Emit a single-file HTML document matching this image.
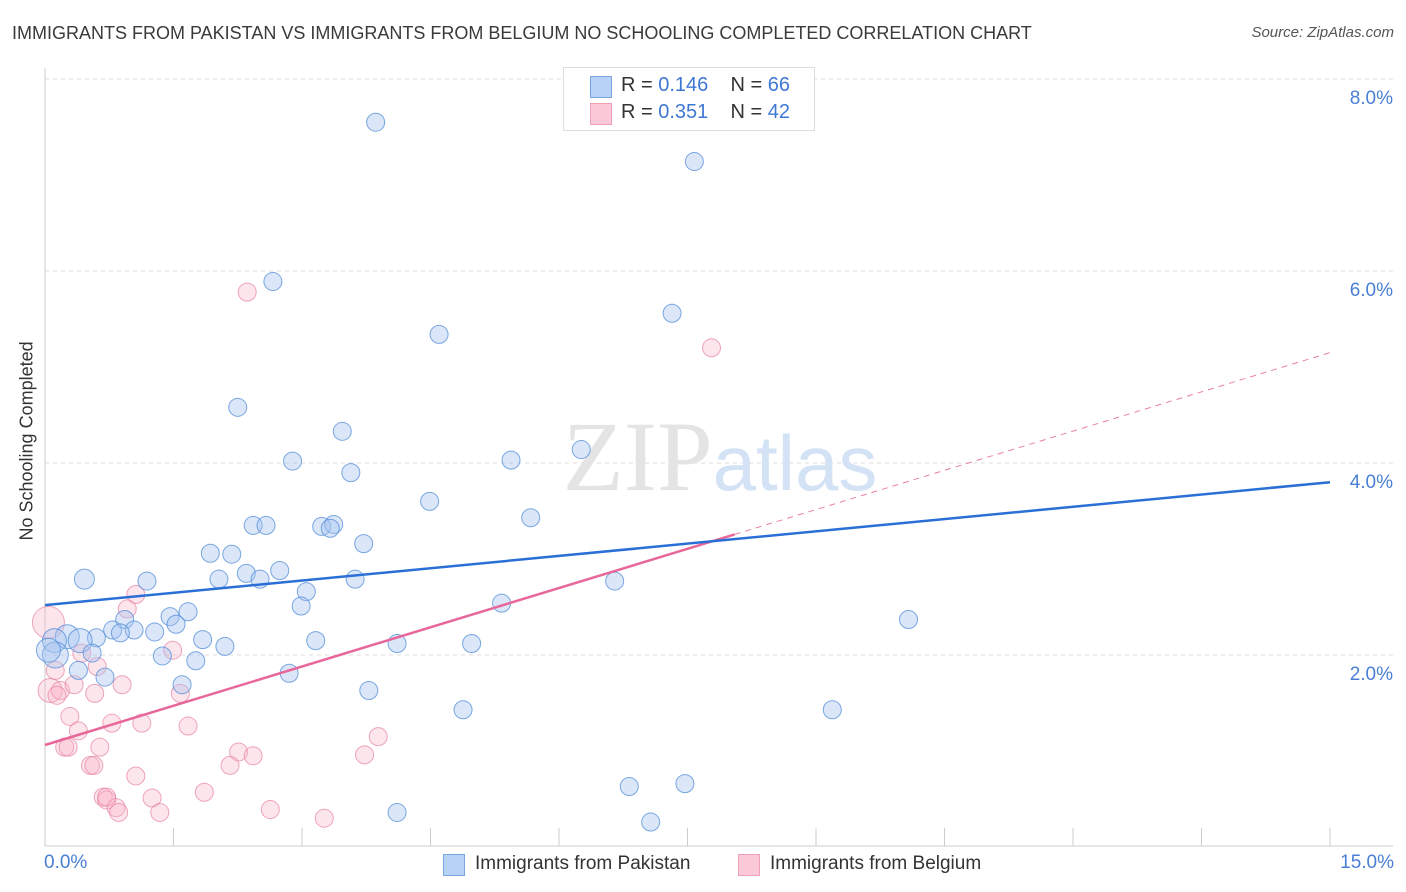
<!DOCTYPE html>
<html><head><meta charset="utf-8"><style>
body{margin:0;background:#fff;font-family:"Liberation Sans",sans-serif;}
#w{position:relative;width:1406px;height:892px;overflow:hidden}
.t{position:absolute;white-space:nowrap}
</style></head><body>
<div id="w">
<div class="t" style="left:12px;top:23px;font-size:18px;color:#3a3a3a">IMMIGRANTS FROM PAKISTAN VS IMMIGRANTS FROM BELGIUM NO SCHOOLING COMPLETED CORRELATION CHART</div>
<div class="t" style="right:12px;top:24px;font-size:15px;color:#555;font-style:italic">Source: ZipAtlas.com</div>
<svg id="s" width="1406" height="892" style="position:absolute;left:0;top:0"></svg>
</div>
<script>
const xTicks=[0,1.5,3,4.5,6,7.5,9,10.5,12,13.5,15];
const yTicks=[2,4,6,8];
const yTickLabels=["2.0%","4.0%","6.0%","8.0%"];
const pakX=[3.86,7.58,2.66,7.32,4.6,2.25,3.47,2.89,5.44,3.57,6.26,4.49,5.67,2.43,2.58,3.23,3.37,3.33,3.72,1.93,2.18,0.46,1.19,2.03,2.35,2.51,2.74,3.62,6.65,3.05,2.99,1.67,1.46,0.93,1.53,0.79,1.04,0.88,1.28,0.60,0.26,0.11,0.41,1.84,2.1,3.16,4.11,4.98,1.37,0.55,0.12,1.76,0.39,0.7,1.6,2.85,3.78,5.33,10.08,4.88,9.19,6.82,7.47,4.11,7.07,0.04];
const pakY=[7.55,7.14,5.89,5.56,5.34,4.58,4.33,4.02,4.03,3.9,4.14,3.6,3.43,3.35,3.35,3.34,3.36,3.32,3.16,3.06,3.05,2.79,2.77,2.79,2.85,2.79,2.88,2.79,2.77,2.66,2.51,2.45,2.4,2.37,2.32,2.26,2.26,2.23,2.24,2.18,2.19,2.15,2.15,2.16,2.09,2.15,2.12,2.12,1.99,2.02,2.0,1.94,1.84,1.77,1.69,1.81,1.63,2.54,2.37,1.43,1.43,0.63,0.66,0.36,0.26,2.05];
const pakR=[9,9,9,9,9,9,9,9,9,9,9,9,9,9,9,9,9,9,9,9,9,10,9,9,9,9,9,9,9,9,9,9,9,9,9,9,9,9,9,9,12,12,12,9,9,9,9,9,9,9,13,9,9,9,9,9,9,9,9,9,9,9,9,9,9,12];
const belX=[2.36,7.78,0.04,1.06,0.96,1.49,0.43,0.61,0.06,0.18,0.14,0.34,0.9,0.58,1.58,0.29,0.39,0.78,1.13,1.67,0.23,0.27,0.64,0.53,0.57,2.26,2.43,2.16,1.06,3.89,3.73,0.68,0.72,0.83,0.86,1.25,1.34,1.86,2.63,3.26,0.72,0.12];
const belY=[5.78,5.2,2.34,2.63,2.48,2.05,2.02,1.88,1.63,1.63,1.58,1.69,1.69,1.6,1.6,1.36,1.21,1.29,1.29,1.26,1.04,1.04,1.04,0.85,0.85,0.99,0.95,0.85,0.74,1.15,0.96,0.52,0.49,0.41,0.36,0.51,0.36,0.57,0.39,0.3,0.52,1.84];
const belR=[9,9,16,9,9,9,9,9,12,9,9,9,9,9,9,9,9,9,9,9,9,9,9,9,9,9,9,9,9,9,9,9,9,9,9,9,9,9,9,9,9,9];
const pakTrend=[2.52,3.80];
const belTrend=[1.0625,5.15];
const belSolidEnd=8.05;
const X0=45,X1=1330,Y0=847;
const sx=v=>X0+(v/15)*(X1-X0);
const sy=v=>Y0-v*96;
const s=document.getElementById('s');
const NS='http://www.w3.org/2000/svg';
function mk(t,a){const e=document.createElementNS(NS,t);for(const k in a)e.setAttribute(k,a[k]);s.appendChild(e);return e;}
yTicks.forEach((v,i)=>{
 const g=mk('line',{x1:X0,x2:1393,y1:sy(v),y2:sy(v),stroke:'#ddd','stroke-dasharray':'4,4'});
 
 
 const t=mk('text',{x:1393,y:sy(v)+25,'text-anchor':'end','font-size':19,fill:'#4a7fd4','font-family':'Liberation Sans'});
 t.textContent=yTickLabels[i];
 
 
});
const ax=mk('line',{x1:X0,x2:X0,y1:68,y2:846,stroke:'#ccc'});


const bx=mk('line',{x1:X0,x2:1393,y1:846,y2:846,stroke:'#ccc'});


xTicks.forEach(v=>{const l=mk('line',{x1:sx(v),x2:sx(v),y1:828,y2:846,stroke:'#ccc'});
 
 });
const wm=mk('text',{x:720,y:490,'text-anchor':'middle','font-size':100,fill:'#e4e4e4','font-family':'Liberation Serif'});
wm.innerHTML='ZIP<tspan fill="#d4e2f5" font-family="Liberation Sans" font-size="78">atlas</tspan>';


function dots(xs,ys,rs,fill,stroke,name){xs.forEach((x,i)=>{const c=mk('circle',{cx:sx(x),cy:sy(ys[i]),r:rs[i],fill:fill,stroke:stroke,'stroke-width':1});
 
 });}
dots(belX,belY,belR,'rgba(248,180,200,0.35)','rgba(230,130,160,0.7)','belgium-point');
dots(pakX,pakY,pakR,'rgba(164,196,240,0.4)','rgba(80,140,215,0.75)','pakistan-point');
const bt=v=>belTrend[0]+(belTrend[1]-belTrend[0])*v/15;
const l1=mk('line',{x1:sx(belSolidEnd),y1:sy(bt(belSolidEnd)),x2:sx(15),y2:sy(bt(15)),stroke:'#e87fa3','stroke-width':1,'stroke-dasharray':'6,5'});


const l2=mk('line',{x1:sx(0),y1:sy(bt(0)),x2:sx(belSolidEnd),y2:sy(bt(belSolidEnd)),stroke:'#e8679a','stroke-width':2.5});


const l3=mk('line',{x1:sx(0),y1:sy(pakTrend[0]),x2:sx(15),y2:sy(pakTrend[1]),stroke:'#2a6fd6','stroke-width':2.5});


</script>
<div class="t" style="left:-58px;top:445px;transform:rotate(-90deg);font-size:18px;color:#333;width:170px;text-align:center">No Schooling Completed</div>
<div class="t" style="left:44px;top:852px;font-size:19px;color:#4a7fd4">0.0%</div>
<div class="t" style="right:12px;top:852px;font-size:19px;color:#4a7fd4">15.0%</div>
<div style="position:absolute;left:563px;top:67px;width:250px;height:62px;border:1px solid #ddd;background:#fff;font-size:20px;color:#333">
 <div style="position:absolute;left:26px;top:8px;width:20px;height:20px;background:#b8d2f5;border:1px solid #7aa6e0"></div>
 <div class="t" style="left:57px;top:6px">R = <span style="color:#3f78d4">0.146</span>&nbsp;&nbsp;&nbsp; N = <span style="color:#3f78d4">66</span></div>
 <div style="position:absolute;left:26px;top:35px;width:20px;height:20px;background:#fac8d6;border:1px solid #eda0b8"></div>
 <div class="t" style="left:57px;top:33px">R = <span style="color:#3f78d4">0.351</span>&nbsp;&nbsp;&nbsp; N = <span style="color:#3f78d4">42</span></div>
</div>
<div style="position:absolute;left:443px;top:852px;font-size:19px;color:#333">
 <div style="position:absolute;left:0;top:2px;width:20px;height:20px;background:#b8d2f5;border:1px solid #7aa6e0"></div>
 <div class="t" style="left:32px;top:1px">Immigrants from Pakistan</div>
 <div style="position:absolute;left:295px;top:2px;width:20px;height:20px;background:#fac8d6;border:1px solid #eda0b8"></div>
 <div class="t" style="left:327px;top:1px">Immigrants from Belgium</div>
</div>
</body></html>
